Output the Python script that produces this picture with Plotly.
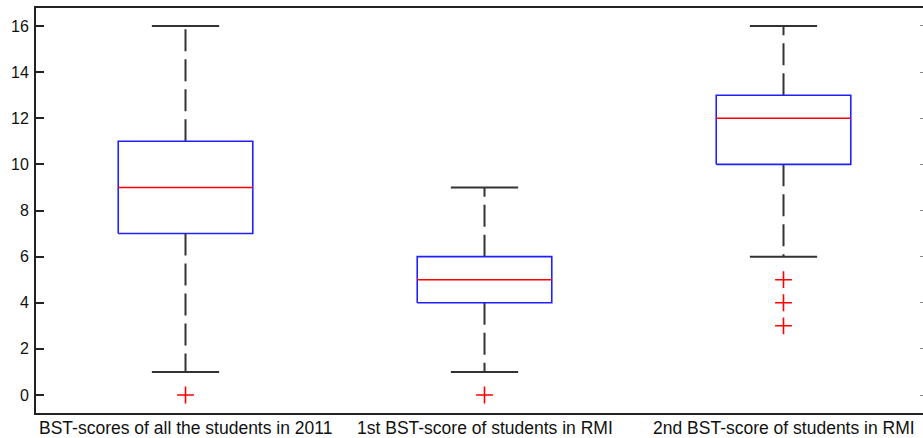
import plotly.graph_objects as go

# Five-number summaries and outliers for each group of BST scores
groups = [
    "BST-scores of all the students in 2011",
    "1st BST-score of students in RMI",
    "2nd BST-score of students in RMI",
]
lower_whisker = [1, 1, 6]
q1 = [7, 4, 10]
median = [9, 5, 12]
q3 = [11, 6, 13]
upper_whisker = [16, 9, 16]
outliers = [[0], [0], [5, 4, 3]]

y_ticks = [0, 2, 4, 6, 8, 10, 12, 14, 16]

BOX_W = 0.45
CAP_W = BOX_W / 2

fig = go.Figure()

for i, name in enumerate(groups):
    c = i + 1
    x0, x1 = c - BOX_W / 2, c + BOX_W / 2
    # dashed whiskers
    for a, b in ((q3[i], upper_whisker[i]), (q1[i], lower_whisker[i])):
        fig.add_trace(go.Scatter(
            x=[c, c], y=[a, b], mode="lines",
            line=dict(color="#333333", width=2, dash="22px,8px"),
            hoverinfo="skip", showlegend=False))
    # whisker caps
    for v in (upper_whisker[i], lower_whisker[i]):
        fig.add_trace(go.Scatter(
            x=[c - CAP_W / 2, c + CAP_W / 2], y=[v, v], mode="lines",
            line=dict(color="#333333", width=2),
            hoverinfo="skip", showlegend=False))
    # box
    fig.add_trace(go.Scatter(
        x=[x0, x1, x1, x0, x0], y=[q1[i], q1[i], q3[i], q3[i], q1[i]],
        mode="lines", line=dict(color="#2020ff", width=1.6),
        hoverinfo="skip", showlegend=False))
    # median
    fig.add_trace(go.Scatter(
        x=[x0, x1], y=[median[i], median[i]], mode="lines",
        line=dict(color="#ff0000", width=1.4),
        hoverinfo="skip", showlegend=False))
    # outliers
    fig.add_trace(go.Scatter(
        x=[c] * len(outliers[i]), y=outliers[i], mode="markers",
        marker=dict(symbol="cross-thin", size=12,
                    line=dict(color="#ff0000", width=1.6)),
        hoverinfo="skip", showlegend=False))
    # group label under the box
    fig.add_annotation(
        x=c, xref="x", y=0, yref="paper", yanchor="top", yshift=-4,
        text=name, showarrow=False, borderpad=0,
        font=dict(size=17.5, color="#111111"))

# faint tick marks on the right-hand frame
fig.add_trace(go.Scatter(x=[None], y=[None], yaxis="y2", showlegend=False))

fig.update_layout(
    width=923, height=438,
    margin=dict(l=36, r=0, t=8, b=25),
    plot_bgcolor="white", paper_bgcolor="white",
    font=dict(family="Liberation Sans, Arial, sans-serif", color="#111111"),
    xaxis=dict(
        range=[0.5, 0.5 + 887 / 299],
        showticklabels=False, ticks="", showgrid=False, zeroline=False,
        showline=True, linecolor="#222222", linewidth=2, mirror=True,
        automargin=False,
    ),
    yaxis=dict(
        range=[-0.78, 16.78],
        tickvals=y_ticks, ticktext=[str(v) for v in y_ticks],
        ticks="inside", ticklen=8, tickwidth=1.5, tickcolor="#222222",
        showgrid=False, zeroline=False,
        showline=True, linecolor="#222222", linewidth=2,
        tickfont=dict(size=16), ticklabelstandoff=2, automargin=False,
    ),
    yaxis2=dict(
        range=[-0.78, 16.78], overlaying="y", side="right",
        tickvals=y_ticks, showticklabels=False,
        ticks="inside", ticklen=3, tickwidth=1, tickcolor="#888888",
        showgrid=False, zeroline=False, showline=False,
    ),
)

fig.write_html("out.html")
